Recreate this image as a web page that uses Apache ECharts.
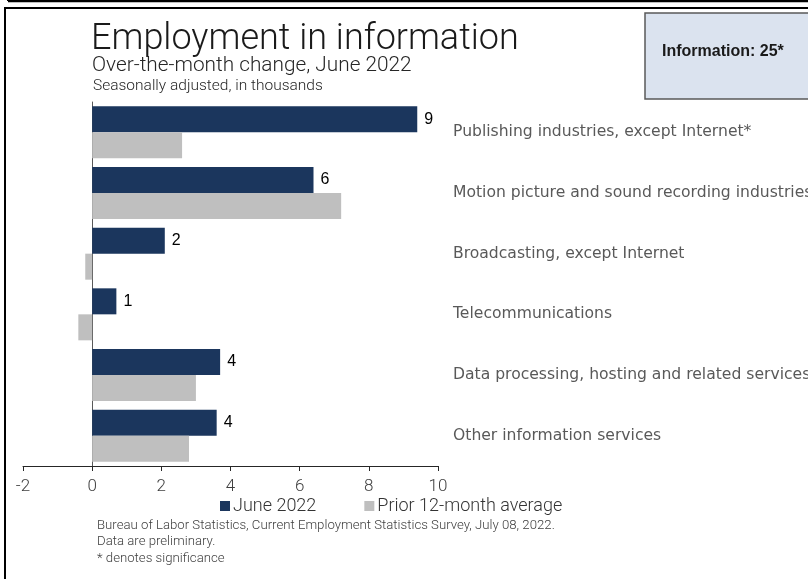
<!DOCTYPE html>
<html>
<head>
<meta charset="utf-8">
<title>Employment in information</title>
<script src="https://cdn.jsdelivr.net/npm/echarts@6/dist/echarts.min.js"></script>
<style>
  html, body { margin: 0; padding: 0; background: #fff; }
  #chart { width: 808px; height: 579px; }
</style>
</head>
<body>
<div id="chart"></div>
<script>
  // industries, top to bottom
  var categories = [
    'Publishing industries, except Internet*',
    'Motion picture and sound recording industries',
    'Broadcasting, except Internet',
    'Telecommunications',
    'Data processing, hosting and related services',
    'Other information services'
  ];
  // over-the-month change, thousands
  var june2022 = [9.4, 6.4, 2.1, 0.7, 3.7, 3.6];
  var prior12Avg = [2.6, 7.2, -0.2, -0.4, 3.0, 2.8];
  var seriesNames = ['June 2022', 'Prior 12-month average'];
  var xTicks = { min: -2, max: 10, interval: 2 };

  var lightFont = 'Roboto';
  var chart = echarts.init(document.getElementById('chart'));

  var option = {
    backgroundColor: '#ffffff',
    animation: false,
    color: ['#1b365d', '#bfbfbf'],
    title: [
      {
        text: 'Employment in information',
        left: 86,
        top: 17,
        textStyle: { fontFamily: lightFont, fontWeight: 300, fontSize: 36, color: '#1a1a1a' }
      },
      {
        text: 'Over-the-month change, June 2022',
        left: 87,
        top: 50,
        textStyle: { fontFamily: lightFont, fontWeight: 300, fontSize: 20.8, color: '#262626' }
      },
      {
        text: 'Seasonally adjusted, in thousands',
        left: 88,
        top: 73,
        textStyle: { fontFamily: lightFont, fontWeight: 300, fontSize: 15.5, color: '#262626' }
      }
    ],
    legend: {
      data: seriesNames,
      left: 215,
      top: 492,
      itemWidth: 10,
      itemHeight: 10,
      itemGap: 48,
      icon: 'rect',
      textStyle: { fontFamily: lightFont, fontWeight: 300, fontSize: 18, color: '#333333', padding: [0, 0, 0, -2] }
    },
    grid: { left: 23, top: 102, width: 415, height: 364, outerBoundsMode: 'none', containLabel: false },
    xAxis: {
      type: 'value',
      min: xTicks.min,
      max: xTicks.max,
      interval: xTicks.interval,
      splitLine: { show: false },
      axisLine: { show: true, lineStyle: { color: '#262626', width: 1 } },
      axisTick: { show: true, length: 5, lineStyle: { color: '#262626' } },
      axisLabel: { margin: 12, fontFamily: lightFont, fontWeight: 300, fontSize: 17, color: '#404040' }
    },
    yAxis: [
      {
        // zero line
        type: 'category',
        data: categories,
        inverse: true,
        axisLine: { show: true, onZero: true, lineStyle: { color: '#595959', width: 1 } },
        axisTick: { show: false },
        axisLabel: { show: false }
      },
      {
        // labels on the right
        type: 'category',
        data: categories,
        inverse: true,
        position: 'right',
        axisLine: { show: false, onZero: false },
        axisTick: { show: false },
        axisLabel: { margin: 15, fontFamily: 'DejaVu Sans', fontSize: 15.6, color: '#595959' }
      }
    ],
    series: [
      {
        name: seriesNames[0],
        type: 'bar',
        yAxisIndex: 0,
        data: june2022,
        barWidth: 26,
        barGap: '0%',
        label: {
          show: true,
          position: 'right',
          distance: 7,
          fontFamily: 'Liberation Sans',
          fontSize: 16,
          color: '#000000',
          formatter: function (p) { return Math.round(p.value); }
        }
      },
      {
        name: seriesNames[1],
        type: 'bar',
        yAxisIndex: 0,
        data: prior12Avg,
        barWidth: 26,
        barGap: '0%'
      }
    ],
    graphic: [
      // frame lines
      { type: 'line', shape: { x1: 8, y1: 1, x2: 810, y2: 1 }, style: { stroke: '#000', lineWidth: 2.5 } },
      { type: 'line', shape: { x1: 8, y1: -5, x2: 8, y2: 1 }, style: { stroke: '#000', lineWidth: 2 } },
      { type: 'rect', shape: { x: 5, y: 8, width: 820, height: 590 }, style: { fill: 'none', stroke: '#000', lineWidth: 2 } },
      // total box
      { type: 'rect', shape: { x: 645, y: 13, width: 180, height: 86 }, style: { fill: '#dbe3ef', stroke: '#595959', lineWidth: 1.5 } },
      {
        type: 'text', x: 662, y: 52,
        style: { text: 'Information: 25*', fontFamily: 'Liberation Sans', fontWeight: 'bold', fontSize: 16, fill: '#1a1a1a', verticalAlign: 'middle' }
      },
      // source notes
      {
        type: 'text', x: 97, y: 517,
        style: {
          text: 'Bureau of Labor Statistics, Current Employment Statistics Survey, July 08, 2022.\nData are preliminary.\n* denotes significance',
          fontFamily: lightFont, fontWeight: 300, fontSize: 13.2, lineHeight: 16.5, fill: '#404040'
        }
      }
    ]
  };

  chart.setOption(option);
</script>
</body>
</html>
